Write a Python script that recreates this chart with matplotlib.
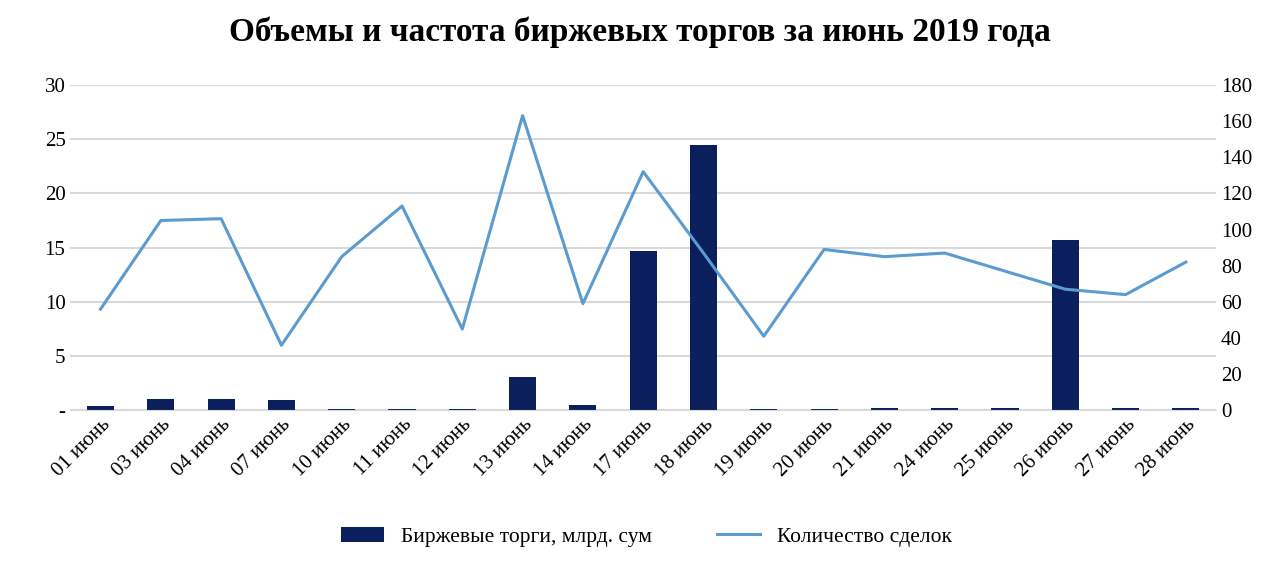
import matplotlib.pyplot as plt
import numpy as np

days = ["01 июнь", "03 июнь", "04 июнь", "07 июнь", "10 июнь", "11 июнь", "12 июнь",
        "13 июнь", "14 июнь", "17 июнь", "18 июнь", "19 июнь", "20 июнь", "21 июнь",
        "24 июнь", "25 июнь", "26 июнь", "27 июнь", "28 июнь"]
volume = [0.43, 1.04, 1.04, 0.95, 0.12, 0.12, 0.12, 3.1, 0.52, 14.66, 24.5,
          0.12, 0.12, 0.25, 0.25, 0.25, 15.67, 0.25, 0.25]
deals = [56, 105, 106, 36, 85, 113, 45, 163, 59, 132, 87, 41, 89, 85, 87, 77, 67, 64, 82]

plt.rcParams["font.family"] = "Liberation Serif"

fig, ax = plt.subplots(figsize=(12.8, 5.66), dpi=100)
fig.subplots_adjust(left=0.055, right=0.95, top=0.85, bottom=0.275)
x = np.arange(len(days))

ax.bar(x, volume, width=0.45, color="#0a1f5c", label="Биржевые торги, млрд. сум", zorder=2)
ax.set_ylim(0, 30)
ax.set_yticks(range(0, 31, 5))
ax.set_yticklabels(["-"] + [str(v) for v in range(5, 31, 5)])
ax.set_xlim(-0.5, len(days) - 0.5)
ax.set_xticks(x)
ax.set_xticklabels(days, rotation=45, ha="right", rotation_mode="anchor")
ax.grid(axis="y", color="#d9d9d9", linewidth=1.5, zorder=0)
ax.tick_params(length=0, labelsize=15)
for s in ax.spines.values():
    s.set_visible(False)
ax.spines["bottom"].set_visible(True)
ax.spines["bottom"].set_color("#d9d9d9")

ax2 = ax.twinx()
ax2.plot(x, deals, color="#5b9bd0", linewidth=2.2, label="Количество сделок", zorder=3)
ax2.set_ylim(0, 180)
ax2.set_yticks(range(0, 181, 20))
ax2.tick_params(length=0, labelsize=15)
for s in ax2.spines.values():
    s.set_visible(False)

h1, l1 = ax.get_legend_handles_labels()
h2, l2 = ax2.get_legend_handles_labels()
fig.legend(h1 + h2, l1 + l2, loc="lower center", ncol=2, frameon=False,
           fontsize=15.5, bbox_to_anchor=(0.505, 0.0), columnspacing=3)

fig.suptitle("Объемы и частота биржевых торгов за июнь 2019 года",
             fontsize=24, fontweight="bold", y=0.97)

fig.savefig("out.png")
